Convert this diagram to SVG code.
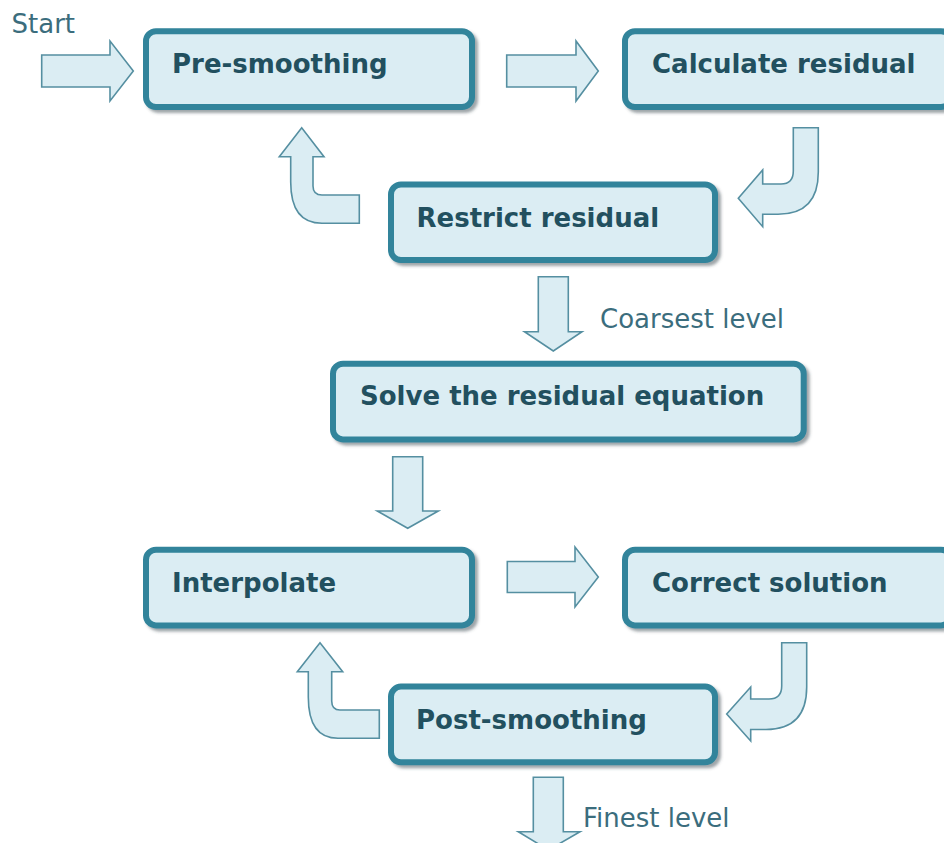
<svg xmlns="http://www.w3.org/2000/svg" width="944" height="843" viewBox="0 0 944 843">
  <defs>
    <filter id="boxShadow" x="-5%" y="-10%" width="115%" height="130%">
      <feDropShadow dx="3" dy="3" stdDeviation="1.4" flood-color="#3c4b52" flood-opacity="0.5"/>
    </filter>
    <style>
      .box { fill: #dbedf3; stroke: #31849b; stroke-width: 6; filter: url(#boxShadow); }
      .label { font-family: "DejaVu Sans", Verdana, sans-serif; font-weight: bold; font-size: 26px; fill: #22505f; }
      .note { font-family: "DejaVu Sans", Verdana, sans-serif; font-size: 26px; fill: #3b6d7d; }
      .arrow { fill: #dbedf3; stroke: #558fa1; stroke-width: 1.6; stroke-linejoin: miter; }
    </style>
  </defs>

  <rect width="944" height="843" fill="#ffffff"/>

  <!-- block arrows between the steps -->
  <g id="connectors">
    <!-- entry arrow -->
    <path class="arrow" d="M41.7,55 H110 V41 L133.3,71 L110,101 V87 H41.7 Z"/>
    <!-- pre-smoothing to residual -->
    <path class="arrow" d="M506.7,55 H576 V41 L598.3,71 L576,101 V87 H506.7 Z"/>
    <!-- residual to restriction (bent) -->
    <path class="arrow" d="M793.3,127.7 L818.3,127.7 L818.3,172 Q818.3,214.3 778,214.3 L762.7,214.3 L762.7,226.7 L738.3,198.3 L762.7,170 L762.7,184 L781,184 Q793.3,184 793.3,171 Z"/>
    <!-- restriction back to pre-smoothing (bent) -->
    <path class="arrow" d="M359.3,195 L322,195 Q313,195 313,186 L313,156.7 L324,156.7 L301.7,127.7 L279.3,156.7 L290.7,156.7 L290.7,182 Q290.7,223.3 322,223.3 L359.3,223.3 Z"/>
    <!-- down to coarsest solve -->
    <path class="arrow" d="M538.3,276.7 H568.3 V331.7 H582 L553.3,351 L524.5,331.7 H538.3 Z"/>
    <!-- down to interpolation -->
    <path class="arrow" d="M392.7,456.7 H422.7 V511 H438.3 L407.7,528.3 L377.3,511 H392.7 Z"/>
    <!-- interpolation to correction -->
    <path class="arrow" d="M507.3,561.5 H575 V547 L598.3,577 L575,607 V592.5 H507.3 Z"/>
    <!-- correction to post-smoothing (bent) -->
    <path class="arrow" d="M781.7,642.7 L806.7,642.7 L806.7,687 Q806.7,729.5 766,729.5 L750.7,729.5 L750.7,741 L726.7,714 L750.7,687 L750.7,699 L769,699 Q781.7,699 781.7,686 Z"/>
    <!-- post-smoothing back to interpolation (bent) -->
    <path class="arrow" d="M379.3,710 L340,710 Q331.7,710 331.7,701 L331.7,671.7 L342.7,671.7 L320,642.7 L297.3,671.7 L308.3,671.7 L308.3,697 Q308.3,738.3 338,738.3 L379.3,738.3 Z"/>
    <!-- exit arrow -->
    <path class="arrow" d="M533.3,777.3 H563.3 V831.7 H580 L548.5,850 L518.3,831.7 H533.3 Z"/>
  </g>

  <!-- side labels -->
  <text class="note" x="11.5" y="33">Start</text>
  <text class="note" x="600" y="328">Coarsest level</text>
  <text class="note" x="583" y="826.5">Finest level</text>

  <!-- process steps -->
  <g id="pre-smoothing">
    <rect class="box" x="146" y="31.3" width="326" height="75.7" rx="10"/>
    <text class="label" x="172" y="73">Pre-smoothing</text>
  </g>
  <g id="calculate-residual">
    <rect class="box" x="625" y="31.3" width="326" height="75.7" rx="10"/>
    <text class="label" x="652" y="73">Calculate residual</text>
  </g>
  <g id="restrict-residual">
    <rect class="box" x="391" y="184.4" width="324" height="75.7" rx="10"/>
    <text class="label" x="416.5" y="227">Restrict residual</text>
  </g>
  <g id="solve-residual-equation">
    <rect class="box" x="333" y="363.7" width="470.7" height="75.7" rx="10"/>
    <text class="label" x="360" y="405">Solve the residual equation</text>
  </g>
  <g id="interpolate">
    <rect class="box" x="146" y="549.7" width="326" height="75.7" rx="10"/>
    <text class="label" x="172" y="591.5">Interpolate</text>
  </g>
  <g id="correct-solution">
    <rect class="box" x="625" y="549.7" width="326" height="75.7" rx="10"/>
    <text class="label" x="652" y="591.5">Correct solution</text>
  </g>
  <g id="post-smoothing">
    <rect class="box" x="391" y="686.6" width="324" height="75.7" rx="10"/>
    <text class="label" x="416" y="728.5">Post-smoothing</text>
  </g>
</svg>
